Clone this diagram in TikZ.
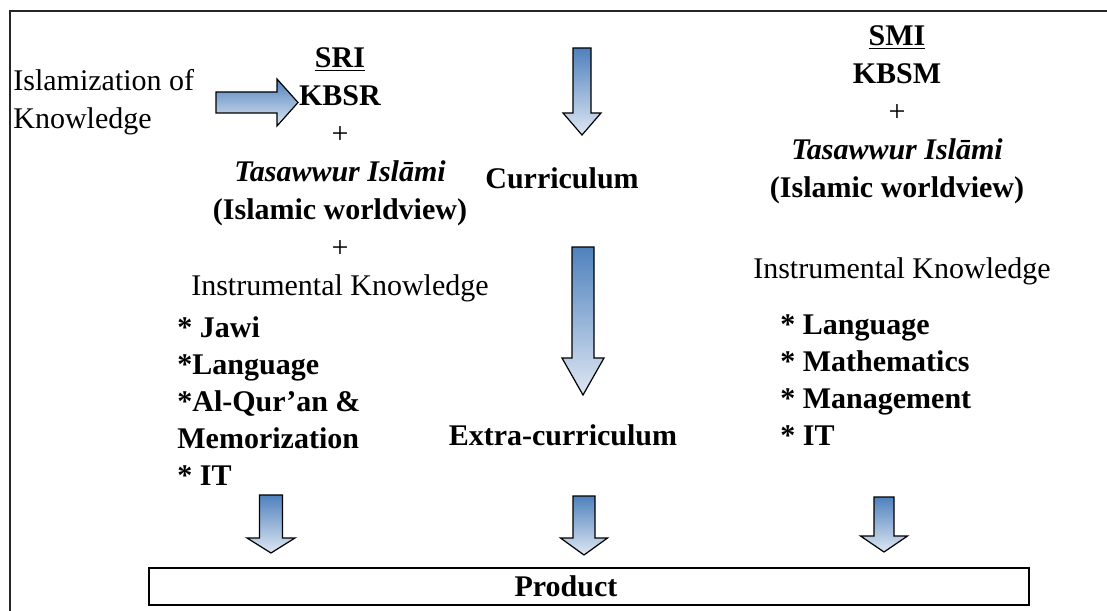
\documentclass[tikz,border=0pt]{standalone}
\usepackage{fontspec}
\setmainfont{Liberation Serif}
\definecolor{arrowtop}{RGB}{79,129,189}
\definecolor{arrowbottom}{RGB}{222,231,243}
\tikzset{
	blockarrow/.style={draw=black,line width=0.6pt,top color=arrowtop,bottom color=arrowbottom},
	frame/.style={draw=black!85,line width=1.1pt},
	txt/.style={inner sep=0pt,font=\fontsize{15}{19}\selectfont,align=center},
	listtxt/.style={inner sep=0pt,font=\fontsize{15}{18.4}\selectfont\bfseries,align=left}
}
% x, top, neck, tip, shaft half width, head half width
\newcommand{\ArrowDown}[6]{
	\draw[blockarrow](#1-#5,#2)--(#1+#5,#2)--(#1+#5,#3)--(#1+#6,#3)
		--(#1,#4)--(#1-#6,#3)--(#1-#5,#3)--cycle;
}
% y, left, neck, tip, shaft half width, head half width
\newcommand{\ArrowRight}[6]{
	\draw[blockarrow](#2,#1-#5)--(#3,#1-#5)--(#3,#1-#6)--(#4,#1)
		--(#3,#1+#6)--(#3,#1+#5)--(#2,#1+#5)--cycle;
}
\begin{document}
\begin{tikzpicture}[x=0.5pt,y=-0.5pt]
\useasboundingbox (0,0) rectangle (1107,610);
\clip (0,0) rectangle (1107,610);
%frame
\draw[frame](10,640)--(10,11)--(1140,11);
%left column
\node[txt,anchor=base west,align=left] (islam) at (13,128) {Islamization of\\Knowledge};
\node[txt,anchor=base] (sri) at (340,295) {\textbf{\underline{SRI}}\\\textbf{KBSR}\\+\\\textbf{\textit{Tasawwur Islāmi}}\\\textbf{(Islamic worldview)}\\+\\Instrumental Knowledge};
\node[listtxt,anchor=base west] (srilist) at (177,485) {* Jawi\\*Language\\*Al-Qur’an \&\\Memorization\\* IT};
%middle column
\node[txt,anchor=base] (curr) at (562,188) {\textbf{Curriculum}};
\node[txt,anchor=base] (extra) at (563,445) {\textbf{Extra-curriculum}};
%right column
\node[txt,anchor=base] (smi) at (897,197) {\textbf{\underline{SMI}}\\\textbf{KBSM}\\+\\\textbf{\textit{Tasawwur Islāmi}}\\\textbf{(Islamic worldview)}};
\node[txt,anchor=base] (smiinst) at (902,278) {Instrumental Knowledge};
\node[listtxt,anchor=base west] (smilist) at (780,445) {* Language\\* Mathematics\\* Management\\* IT};
%product
\node[draw=black,line width=1.1pt,minimum width=440pt,minimum height=18.5pt,inner sep=0pt,
	font=\fontsize{15}{19}\selectfont\bfseries] (product) at (589,586.5) {Product\hspace*{23pt}};
%arrows
\ArrowRight{102.5}{216}{277}{298}{10.5}{23.5}
\ArrowDown{582}{48}{113}{135}{9}{19}
\ArrowDown{583}{247}{358}{395}{11}{21}
\ArrowDown{271}{495}{538}{553}{11.5}{24}
\ArrowDown{584}{496}{538}{555}{11}{23.5}
\ArrowDown{884}{497}{536}{552}{10}{23.5}
\end{tikzpicture}
\end{document}
